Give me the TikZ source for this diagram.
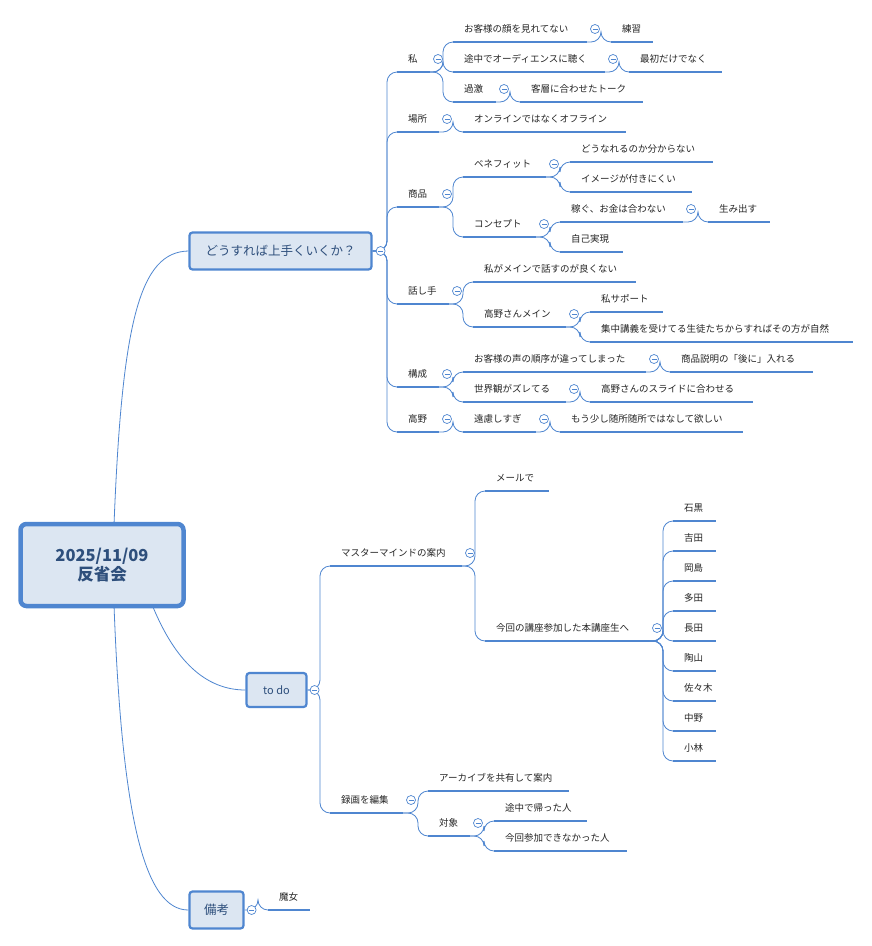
\documentclass[tikz,border=0pt]{standalone}
\usepackage{fontspec}
\setmainfont{Noto Sans CJK JP}
\usetikzlibrary{calc}
\definecolor{lb}{HTML}{4F86D0}
\definecolor{boxfill}{HTML}{DCE6F2}
\definecolor{dk}{HTML}{2E4F7C}
\tikzset{
  uline/.style={draw=lb,line width=2.6pt},
  conn/.style={draw=lb,line width=0.8pt,rounded corners=10pt},
  rconn/.style={draw=lb,line width=0.8pt},
  lbl/.style={inner sep=0pt,font=\fontsize{9.5}{11}\selectfont,text=black!85},
  mbox/.style={draw=lb,fill=boxfill,line width=2.2pt,rounded corners=3pt,text=dk,font=\fontsize{12.5}{14}\selectfont,inner sep=0pt},
  col/.style={circle,draw=lb,fill=white,line width=0.7pt,minimum size=9pt,inner sep=0pt,
    path picture={\draw[lb,line width=0.6pt] ([xshift=-2.5pt]path picture bounding box.center)--([xshift=2.5pt]path picture bounding box.center);}}
}
\newcommand{\topic}[5]{%
  \coordinate (#1-L) at (#2,#4);
  \coordinate (#1-R) at (#3,#4);
  \draw[uline] (#1-L)--(#1-R);
  \node[lbl,anchor=base west] (#1) at (#2+11,#4-10) {#5};}
\newcommand{\cl}[2]{\path[conn] (#1-R) -- ($(#1-R -| #2-L)+(-10,0)$) |- (#2-L);}
\newcommand{\cb}[1]{\node[col] (#1-c) at ($(#1-R)+(8,-13)$) {};}
\begin{document}
\begin{tikzpicture}[x=1pt,y=-1pt]
\useasboundingbox (0,0) rectangle (871,946);
\fill[white] (0,0) rectangle (871,946);
% root
\node[draw=lb,fill=boxfill,line width=4.5pt,rounded corners=6pt,minimum width=163pt,minimum height=82pt,
  text=dk,font=\bfseries\fontsize{16.5}{19}\selectfont,align=center] (root) at (102,565) {2025/11/09\\反省会};
\node[mbox,minimum width=182pt,minimum height=37pt] (q) at (280.5,251) {どうすれば上手くいくか？};
\node[mbox,minimum width=60pt,minimum height=34pt,font=\fontsize{11}{13}\selectfont] (todo) at (276.5,690) {to do};
\node[mbox,minimum width=54pt,minimum height=37pt] (biko) at (216.5,910) {備考};
\coordinate (q-R) at (q.east); \coordinate (todo-R) at (todo.east); \coordinate (biko-R) at (biko.east);
\draw[rconn] (114,525) .. controls (122,320) and (140,252) .. (q.west);
\draw[rconn] (153,607) .. controls (175,660) and (205,690) .. (todo.west);
\draw[rconn] (114,605) .. controls (122,820) and (145,910) .. (biko.west);

% upper branch
\topic{wa}{397}{430}{72}{私}
\topic{a1}{453}{587}{42}{お客様の顔を見れてない}
\topic{a1a}{611}{653}{42}{練習}
\topic{a2}{453}{605}{72}{途中でオーディエンスに聴く}
\topic{a2a}{629}{722}{72}{最初だけでなく}
\topic{a3}{453}{496}{102}{過激}
\topic{a3a}{520}{643}{102}{客層に合わせたトーク}
\topic{ba}{397}{439}{132}{場所}
\topic{b1}{463}{626}{132}{オンラインではなくオフライン}
\topic{sh}{397}{439}{207}{商品}
\topic{s1}{463}{546}{177}{ベネフィット}
\topic{s1a}{570}{713}{162}{どうなれるのか分からない}
\topic{s1b}{570}{692}{192}{イメージが付きにくい}
\topic{s2}{463}{536}{237}{コンセプト}
\topic{s2a}{560}{683}{222}{稼ぐ、お金は合わない}
\topic{s2aa}{708}{770}{222}{生み出す}
\topic{s2b}{560}{623}{252}{自己実現}
\topic{ha}{397}{449}{304}{話し手}
\topic{h1}{473}{636}{282}{私がメインで話すのが良くない}
\topic{h2}{473}{566}{327}{高野さんメイン}
\topic{h2a}{590}{663}{312}{私サポート}
\topic{h2b}{590}{853}{342}{集中講義を受けてる生徒たちからすればその方が自然}
\topic{ko}{397}{439}{387}{構成}
\topic{k1}{463}{646}{372}{お客様の声の順序が違ってしまった}
\topic{k1a}{670}{813}{372}{商品説明の「後に」入れる}
\topic{k2}{463}{566}{402}{世界観がズレてる}
\topic{k2a}{590}{753}{402}{高野さんのスライドに合わせる}
\topic{ta}{397}{439}{432}{高野}
\topic{t1}{463}{536}{432}{遠慮しすぎ}
\topic{t1a}{560}{743}{432}{もう少し随所随所ではなして欲しい}

\foreach \c in {wa,ba,sh,ha,ko,ta} {\cl{q}{\c}}
\cl{wa}{a1}\cl{wa}{a2}\cl{wa}{a3}
\cl{a1}{a1a}\cl{a2}{a2a}\cl{a3}{a3a}
\cl{ba}{b1}
\cl{sh}{s1}\cl{sh}{s2}\cl{s1}{s1a}\cl{s1}{s1b}\cl{s2}{s2a}\cl{s2}{s2b}\cl{s2a}{s2aa}
\cl{ha}{h1}\cl{ha}{h2}\cl{h2}{h2a}\cl{h2}{h2b}
\cl{ko}{k1}\cl{ko}{k2}\cl{k1}{k1a}\cl{k2}{k2a}
\cl{ta}{t1}\cl{t1}{t1a}
\node[col] at ($(q-R)+(8,0)$) {};
\foreach \p in {wa,a1,a2,a3,ba,sh,s1,s2,s2a,ha,h2,ko,k1,k2,ta,t1} {\cb{\p}}

% to do
\topic{ma}{330}{462}{566}{マスターマインドの案内}
\topic{m1}{485}{549}{491}{メールで}
\topic{m2}{485}{649}{641}{今回の講座参加した本講座生へ}
\foreach \n/\t [count=\i from 0] in {n1/石黒,n2/吉田,n3/岡島,n4/多田,n5/長田,n6/陶山,n7/佐々木,n8/中野,n9/小林}
  {\pgfmathsetmacro\yy{521+30*\i}\topic{\n}{673}{716}{\yy}{\t}}
\topic{ro}{330}{403}{813}{録画を編集}
\topic{r1}{428}{569}{791}{アーカイブを共有して案内}
\topic{r2}{428}{470}{836}{対象}
\topic{r2a}{494}{587}{821}{途中で帰った人}
\topic{r2b}{494}{627}{851}{今回参加できなかった人}
\topic{mj}{268}{310}{910}{魔女}
\cl{todo}{ma}\cl{todo}{ro}\cl{ma}{m1}\cl{ma}{m2}
\foreach \n in {n1,n2,n3,n4,n5,n6,n7,n8,n9} {\cl{m2}{\n}}
\cl{ro}{r1}\cl{ro}{r2}\cl{r2}{r2a}\cl{r2}{r2b}
\cl{biko}{mj}
\node[col] at ($(todo-R)+(7,0)$) {};
\node[col] at ($(biko-R)+(7,0)$) {};
\foreach \p in {ma,m2,ro,r2} {\cb{\p}}
\end{tikzpicture}
\end{document}
